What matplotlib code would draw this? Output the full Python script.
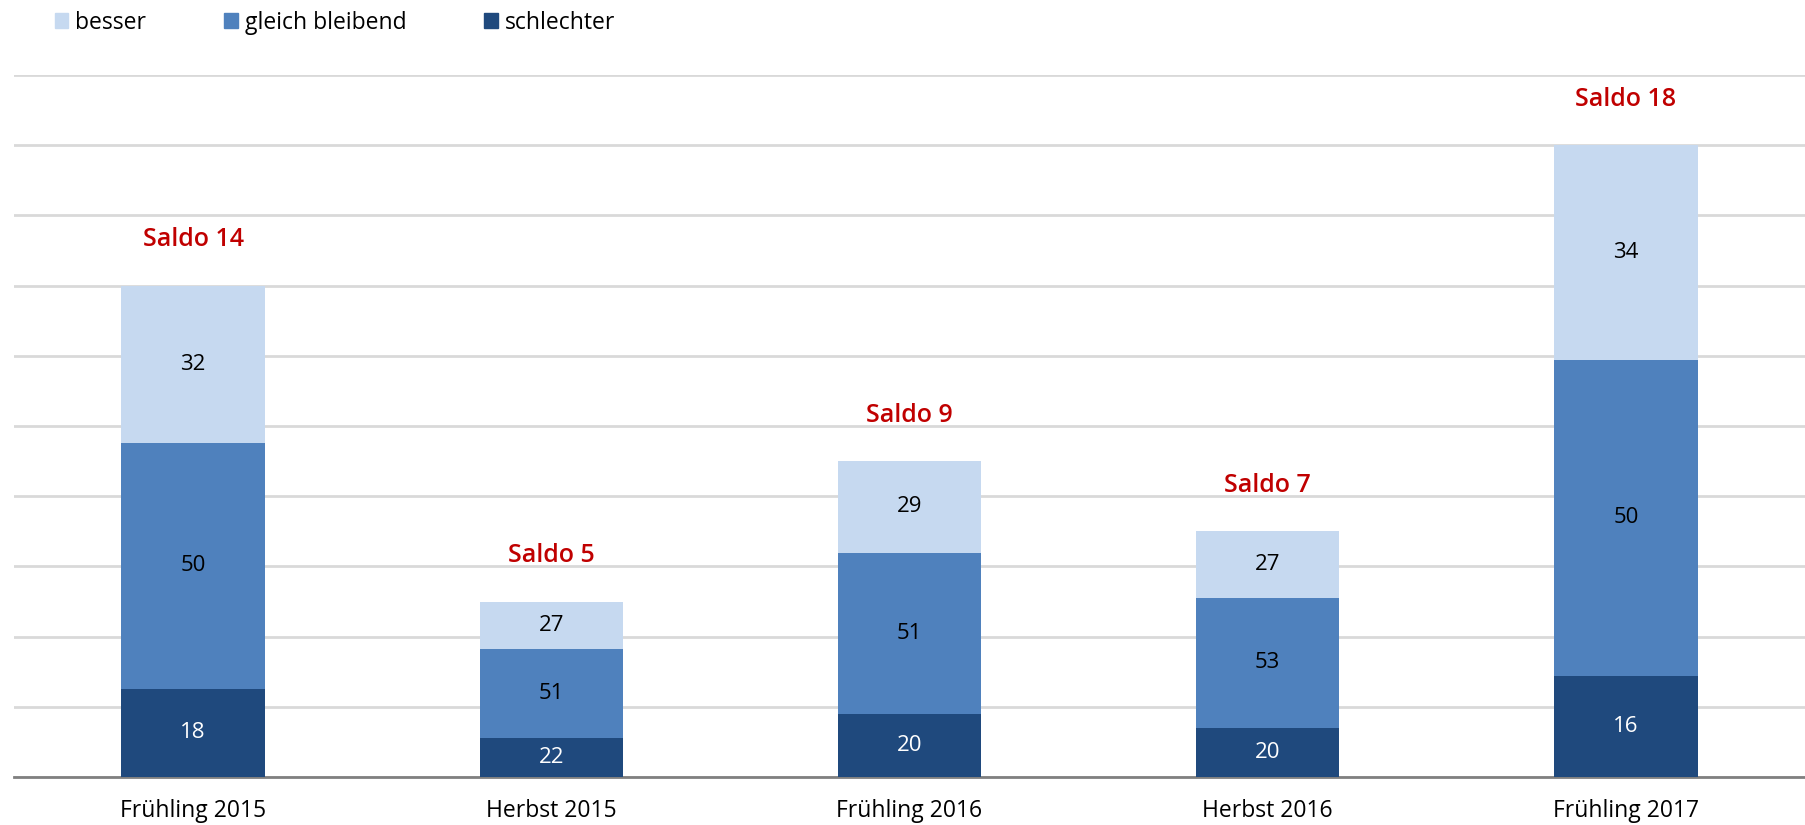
import numpy as np
import matplotlib.pyplot as plt
from matplotlib.patches import Rectangle

plt.rcParams['font.family'] = ['Open Sans', 'DejaVu Sans']

categories = ["Frühling 2015", "Herbst 2015", "Frühling 2016", "Herbst 2016", "Frühling 2017"]
schlechter = [18, 22, 20, 20, 16]
gleich = [50, 51, 51, 53, 50]
besser = [32, 27, 29, 27, 34]
saldo = [14, 5, 9, 7, 18]

c_besser = "#c6d9f0"
c_gleich = "#4f81bd"
c_schlecht = "#1f497d"

fig = plt.figure(figsize=(18.05, 8.25), dpi=100)
ax = fig.add_axes([14 / 1805, 48 / 825, 1 - 14 / 1805, (777 - 75) / 825])

x = np.arange(len(categories))
# bar height = saldo, split by percentage shares
s = np.array(saldo, dtype=float)
h_sch = np.array(schlechter) / 100 * s
h_gl = np.array(gleich) / 100 * s
h_be = np.array(besser) / 100 * s

w = 0.4
ax.bar(x, h_sch, w, color=c_schlecht, zorder=3, label="schlechter")
ax.bar(x, h_gl, w, bottom=h_sch, color=c_gleich, zorder=3, label="gleich bleibend")
ax.bar(x, h_be, w, bottom=h_sch + h_gl, color=c_besser, zorder=3, label="besser")

for i in range(len(x)):
    ax.text(x[i], h_sch[i] / 2, str(schlechter[i]), ha='center', va='center',
            color='white', fontsize=16, zorder=4)
    ax.text(x[i], h_sch[i] + h_gl[i] / 2, str(gleich[i]), ha='center', va='center',
            color='black', fontsize=16, zorder=4)
    ax.text(x[i], h_sch[i] + h_gl[i] + h_be[i] / 2, str(besser[i]), ha='center', va='center',
            color='black', fontsize=16, zorder=4)
    ax.text(x[i], s[i] + 1.3, f"Saldo {saldo[i]}", ha='center', va='center',
            color='#c00000', fontsize=18, fontweight='semibold', zorder=4)

ax.set_xlim(-0.5, len(x) - 0.5)
ax.set_ylim(0, 20)
ax.set_yticks(np.arange(0, 21, 2))
ax.yaxis.grid(True, color='#d9d9d9', lw=2, zorder=0)
ax.tick_params(axis='y', left=False, labelleft=False)
ax.tick_params(axis='x', length=0, labelsize=16.5, pad=16)
ax.set_xticks(x)
ax.set_xticklabels(categories)
for sp in ['top', 'right', 'left']:
    ax.spines[sp].set_visible(False)
ax.spines['bottom'].set_color('#808080')
ax.spines['bottom'].set_linewidth(2)

handles = [Rectangle((0, 0), 1, 1, color=c) for c in (c_besser, c_gleich, c_schlecht)]
fig.legend(handles, ["besser", "gleich bleibend", "schlechter"], loc='upper left',
           bbox_to_anchor=(34 / 1805, 1.012), ncol=3, frameon=False, fontsize=16.5,
           handlelength=0.6, handleheight=0.6, handletextpad=0.3, columnspacing=3.4)

fig.savefig("out.png", dpi=100)
